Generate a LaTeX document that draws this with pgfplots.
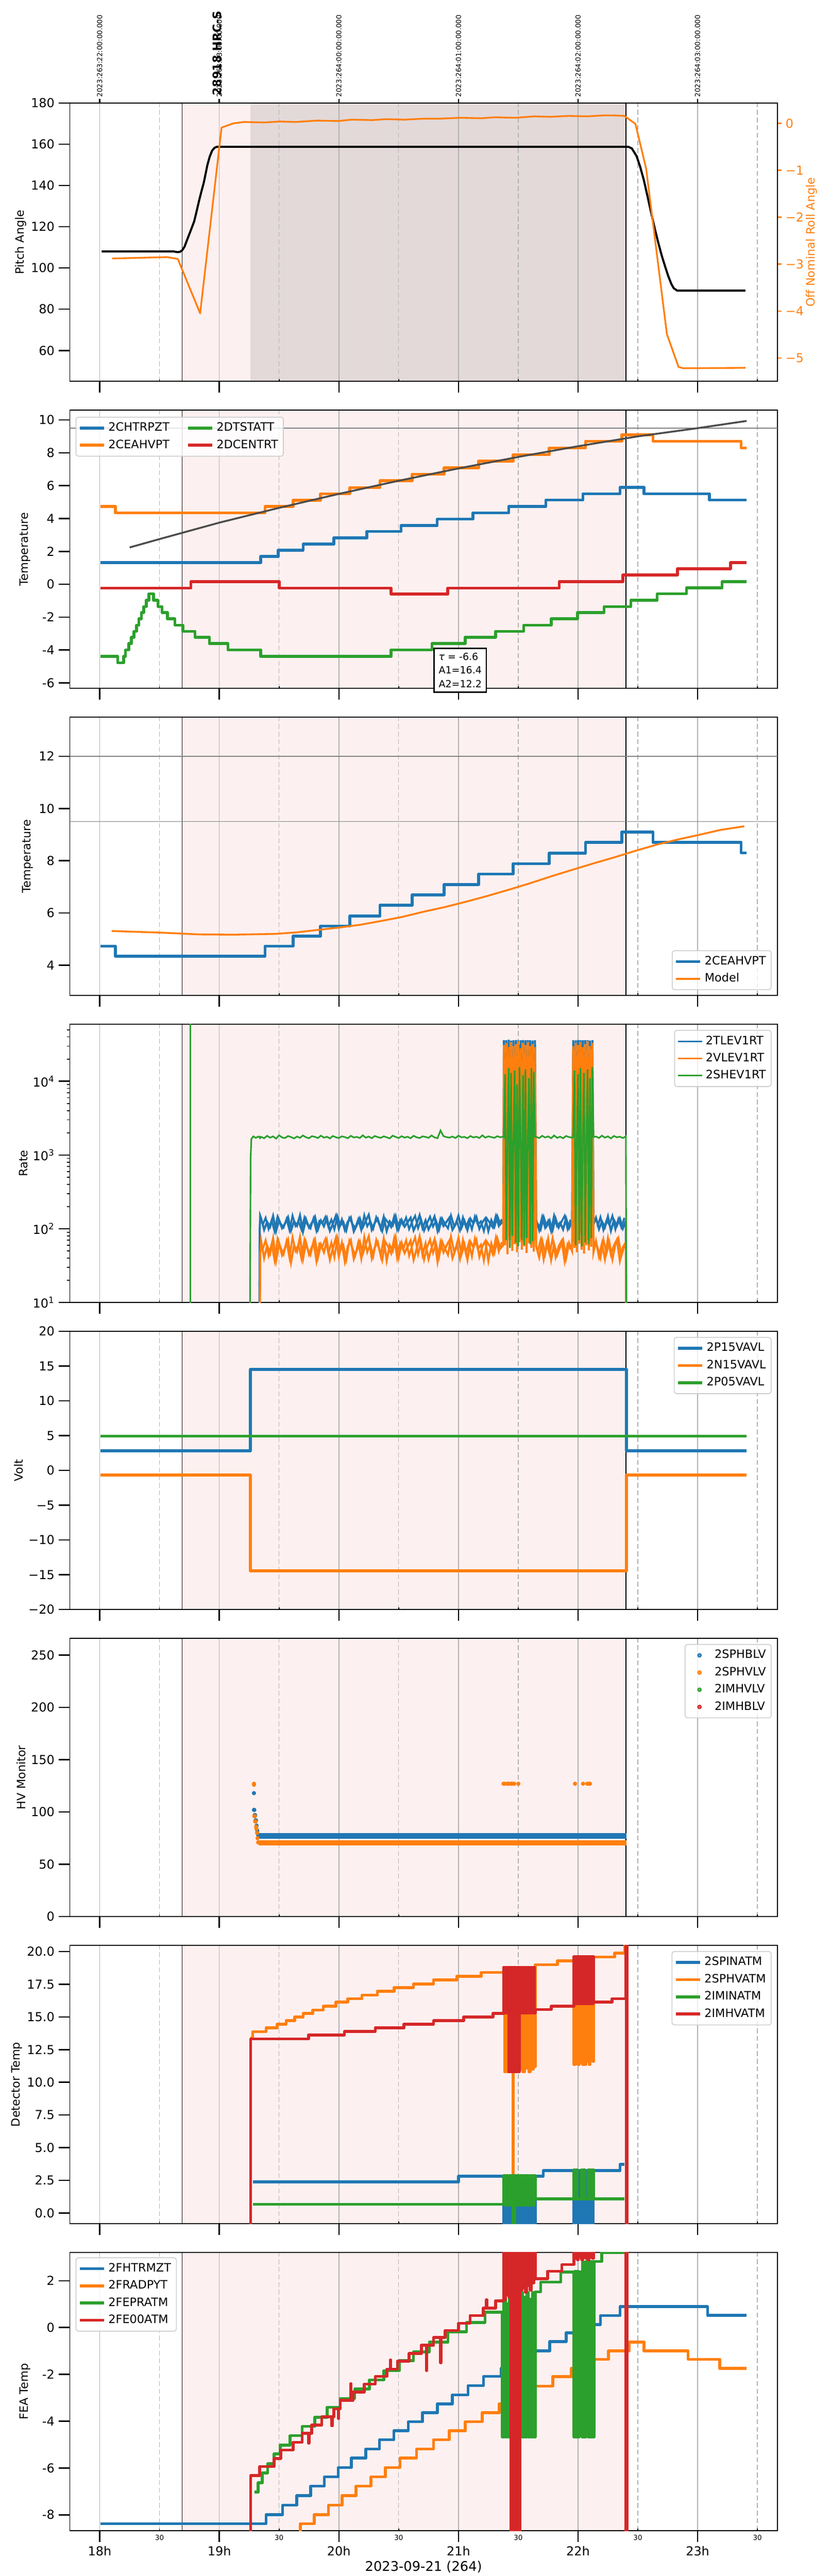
\documentclass[border=0pt]{standalone}
\usepackage{fontspec}
\setmainfont{DejaVu Sans}
\usepackage{pgfplots}
\pgfplotsset{compat=1.18}
\usepackage{pgfplotstable}

\definecolor{mblue}{RGB}{31,119,180}
\definecolor{morange}{RGB}{255,127,14}
\definecolor{mgreen}{RGB}{44,160,44}
\definecolor{mred}{RGB}{214,39,40}
\definecolor{pinkbg}{RGB}{253,240,240}
\definecolor{darkbg}{RGB}{227,217,217}
\definecolor{gridgray}{RGB}{176,176,176}
\definecolor{hgray}{RGB}{128,128,128}

\pgfplotstableread{
x b o g
19.255 nan nan 1
19.262 nan nan 900
19.268 nan nan 1650
19.285 nan nan 1790
19.305 nan nan 1710
19.325 nan nan 1780
19.334 1 nan 1740
19.338 95 1 1760
19.342 150 45 1700
19.350 138 68 1760
19.375 97 40 1690
19.400 124 59 1820
19.425 106 46 1720
19.450 149 74 1790
19.475 93 37 1670
19.500 131 63 1850
19.525 102 44 1730
19.550 118 55 1700
19.575 144 71 1810
19.600 95 35 1750
19.625 127 60 1680
19.650 110 49 1780
19.675 152 77 1710
19.700 91 39 1840
19.725 135 65 1740
19.750 104 45 1690
19.775 121 57 1800
19.800 146 72 1760
19.825 98 41 1700
19.850 129 61 1830
19.875 108 48 1720
19.900 140 69 1770
19.925 94 38 1680
19.950 117 54 1810
19.975 150 75 1740
20.000 100 42 1700
20.025 133 64 1790
20.050 96 36 1750
20.075 125 58 1690
20.100 143 70 1820
20.125 92 39 1730
20.150 112 51 1760
20.175 139 67 1700
20.200 105 46 1850
20.225 128 62 1720
20.250 155 79 1780
20.275 97 40 1690
20.300 120 56 1810
20.325 137 66 1750
20.350 101 43 1710
20.375 145 73 1790
20.400 93 37 1740
20.425 126 60 1680
20.450 111 50 1830
20.475 148 76 1760
20.500 99 41 1700
20.525 132 64 1800
20.550 107 47 1720
20.575 123 57 1770
20.600 141 69 1690
20.625 95 38 1820
20.650 116 53 1740
20.675 153 78 1700
20.700 102 44 1790
20.725 130 63 1760
20.750 98 39 1710
20.775 119 55 1840
20.800 147 72 1730
20.825 94 36 1690
20.850 135 66 2150
20.875 109 48 1800
20.900 124 59 1750
20.925 142 70 1720
20.950 97 40 1780
20.975 114 52 1700
21.000 150 75 1830
21.025 103 45 1740
21.050 128 61 1760
21.075 96 38 1690
21.100 137 67 1810
21.125 118 56 1730
21.150 145 71 1770
21.175 100 42 1700
21.200 122 58 1850
21.225 139 68 1720
21.250 93 37 1790
21.275 131 63 1750
21.300 106 47 1710
21.325 148 74 1800
21.350 115 54 1740
21.375 127 60 1780
21.380 36000 31000 1750
21.390 120 60 12500
21.400 36000 33000 70
21.410 105 45 1760
21.420 36500 29000 15000
21.430 130 70 55
21.440 35500 34000 13000
21.450 95 50 80
21.460 36000 30000 1740
21.470 115 62 14000
21.480 36200 32000 65
21.490 100 48 9000
21.500 35800 35000 58
21.510 125 66 15500
21.520 36000 28000 1760
21.530 108 52 70
21.540 36300 33000 12000
21.550 98 58 60
21.560 35900 31000 14500
21.570 132 47 75
21.580 36100 34000 1750
21.590 102 64 11000
21.600 36000 30000 62
21.610 118 55 15000
21.620 35700 32000 68
21.630 110 49 13500
21.640 36000 29000 1770
21.650 131 58 1760
21.675 96 41 1700
21.700 144 69 1820
21.725 104 46 1730
21.750 127 73 1790
21.775 93 38 1690
21.800 150 62 1840
21.825 109 44 1710
21.850 121 57 1770
21.875 98 71 1690
21.900 139 40 1810
21.925 102 64 1750
21.950 126 50 1720
21.960 36000 30000 1750
21.970 112 55 14000
21.980 35800 33000 60
21.990 97 48 1760
22.000 36200 31000 12500
22.010 128 63 70
22.020 36000 34000 15000
22.030 104 52 58
22.040 35900 29000 1740
22.050 120 46 13000
22.060 36100 32000 65
22.070 99 60 1750
22.080 36000 35000 14500
22.090 133 51 62
22.100 35700 30000 11000
22.110 107 57 75
22.120 36000 33000 15500
22.130 115 49 1760
22.150 141 68 1780
22.175 99 42 1700
22.200 126 63 1830
22.225 105 39 1720
22.250 147 74 1790
22.275 94 45 1680
22.300 132 59 1810
22.325 110 71 1740
22.350 138 37 1770
22.375 101 56 1700
22.400 129 66 1790
22.405 1 1 1
}\ratetab

\pgfplotstableread{
x b o
19.3625 112 52
19.3875 141 70
19.4125 99 43
19.4375 130 62
19.4625 92 37
19.4875 147 74
19.5125 118 56
19.5375 104 45
19.5625 136 68
19.5875 95 40
19.6125 151 77
19.6375 109 50
19.6625 126 61
19.6875 97 39
19.7125 143 72
19.7375 114 54
19.7625 101 44
19.7875 138 67
19.8125 93 36
19.8375 128 63
19.8625 120 58
19.8875 145 73
19.9125 106 46
19.9375 133 65
19.9625 98 41
19.9875 149 76
20.0125 111 51
20.0375 124 60
20.0625 94 38
20.0875 140 69
20.1125 117 55
20.1375 103 44
20.1625 135 66
20.1875 96 39
20.2125 153 78
20.2375 108 48
20.2625 127 62
20.2875 100 42
20.3125 144 71
20.3375 115 53
20.3625 92 37
20.3875 137 67
20.4125 121 57
20.4375 105 46
20.4625 148 75
20.4875 97 40
20.5125 131 64
20.5375 113 52
20.5625 142 70
20.5875 99 43
20.6125 125 59
20.6375 150 77
20.6625 102 45
20.6875 134 66
20.7125 94 38
20.7375 119 56
20.7625 146 72
20.7875 107 47
20.8125 129 63
20.8375 96 41
20.8625 139 68
20.8875 116 54
20.9125 101 44
20.9375 152 79
20.9625 110 50
20.9875 123 60
21.0125 95 39
21.0375 143 71
21.0625 106 46
21.0875 132 65
21.1125 98 42
21.1375 147 74
21.1625 114 53
21.1875 126 61
21.2125 93 37
21.2375 138 67
21.2625 120 58
21.2875 104 45
21.3125 150 76
21.3375 109 49
21.3625 135 66
21.3700 nan nan
21.6625 118 49
21.6875 97 71
21.7125 146 38
21.7375 108 64
21.7625 131 45
21.7875 94 75
21.8125 139 41
21.8375 103 58
21.8625 125 69
21.8875 150 36
21.9125 99 62
21.9375 133 53
21.9450 nan nan
22.1625 106 57
22.1875 144 40
22.2125 96 72
22.2375 129 46
22.2625 113 66
22.2875 150 38
22.3125 98 61
22.3375 136 75
22.3625 104 43
22.3875 141 58
}\ratetabB

\pgfplotsset{
  base/.style={
    scale only axis, width=613.1pt, height=241.2pt,
    anchor=north west,
    xmin=17.75, xmax=23.667,
    set layers, clip mode=individual,
    axis line style={line width=0.8pt},
    tick align=outside,
    major tick length=9.7pt, minor tick length=2.5pt,
    tick style={black, line width=1.1pt},
    minor tick style={line width=0.8pt},
    xtick={18,...,23},
    xtick pos=left, ytick pos=left,
    xmajorgrids,
    major grid style={gridgray, line width=0.7pt},
    extra x ticks={18.5,19.5,...,23.5},
    extra x tick style={grid=major, major grid style={gridgray, line width=0.6pt, dash pattern=on 4.2pt off 2.4pt},
      tick align=inside, major tick length=2pt, tick style={line width=0.8pt}},
    tick label style={font=\fontsize{10.7}{12}\selectfont},
    label style={font=\fontsize{10}{12}\selectfont},
    /pgf/number format/assume math mode=true,
    legend cell align=left,
    legend style={font=\fontsize{10}{12}\selectfont, draw=black!20, line width=0.7pt,
      rounded corners=2pt, fill=white, fill opacity=0.8, text opacity=1,
      inner xsep=2pt, inner ysep=2pt, row sep=0pt,
      nodes={inner sep=2.6pt, text height=7.5pt, text depth=2.2pt}},
  },
  nolab/.style={xticklabels={,,,,,}, extra x tick labels={,,,,,}},
  ylab/.style={ylabel style={at={(axis description cs:#1,0.5)}, anchor=center}},
  linelegend/.style={legend image code/.code={\draw[##1] (0pt,0pt) -- (21pt,0pt);}},
  pinkfill/.style={fill=pinkbg, draw=none, forget plot, on layer=axis background},
  vline/.style={black, line width=0.6pt, forget plot},
  stepl/.style={const plot, line width=2.5pt, line join=round},
  legUR/.style={legend style={at={(1,1)}, anchor=north east, xshift=-5pt, yshift=-5pt}},
}

\begin{document}
\begin{tikzpicture}

% ================= Panel 1 =================
\begin{axis}[base, nolab, at={(0pt,0pt)}, ymin=45, ymax=180, ytick={60,80,...,180},
  ylabel={Pitch Angle}, ylab=-0.0693]
\addplot[pinkfill] coordinates {(18.69,45) (22.40,45) (22.40,180) (18.69,180)} -- cycle;
\addplot[fill=darkbg, draw=none, forget plot, on layer=axis background] coordinates {(19.26,45) (22.40,45) (22.40,180) (19.26,180)} -- cycle;
\addplot[vline] coordinates {(18.69,45) (18.69,180)};
\addplot[vline] coordinates {(22.40,45) (22.40,180)};
\addplot[black, line width=1.8pt, line join=round] coordinates {
(18.017,108) (18.62,108) (18.65,107.7) (18.67,107.8) (18.69,108.6) (18.71,110.4) (18.73,113.5)
(18.76,118) (18.79,122.6) (18.81,127.4) (18.83,132.4) (18.85,137) (18.87,141.3) (18.885,145.5)
(18.90,149.8) (18.92,154) (18.94,156.9) (18.96,158.3) (18.98,158.8) (22.42,158.8) (22.45,158)
(22.49,154.2) (22.52,149) (22.55,142.7) (22.58,135) (22.61,127.2) (22.64,119.5) (22.67,112.5)
(22.70,106) (22.73,100.4) (22.755,96) (22.78,92.3) (22.80,90.2) (22.83,89) (23.40,89)};
\end{axis}

\begin{axis}[scale only axis, width=613.1pt, height=241.2pt, anchor=north west, at={(0pt,0pt)},
  xmin=17.75, xmax=23.667, ymin=-5.5, ymax=0.434,
  axis y line*=right, axis x line=none,
  axis line style={line width=0.8pt},
  tick align=outside, major tick length=3.6pt,
  tick style={morange, line width=1.1pt},
  ytick={-5,...,0}, yticklabels={−5,−4,−3,−2,−1,0},
  yticklabel style={morange, font=\fontsize{10.7}{12}\selectfont},
  ylabel={Off Nominal Roll Angle},
  ylabel style={morange, font=\fontsize{10}{12}\selectfont, at={(axis description cs:1.0481,0.5)}, anchor=center}]
\addplot[morange, line width=1.5pt, line join=round] coordinates {
(18.104,-2.88) (18.563,-2.85) (18.653,-2.89) (18.84,-4.05) (19.019,-0.09) (19.116,0.0) (19.205,0.03)
(19.379,0.02) (19.506,0.04) (19.639,0.03) (19.817,0.06) (19.994,0.05) (20.105,0.08) (20.282,0.07)
(20.393,0.09) (20.548,0.08) (20.704,0.10) (20.837,0.10) (21.014,0.12) (21.191,0.11) (21.302,0.13)
(21.479,0.12) (21.634,0.15) (21.767,0.14) (21.922,0.16) (22.077,0.15) (22.210,0.17) (22.299,0.17)
(22.387,0.16) (22.48,-0.01) (22.57,-0.97) (22.743,-4.49) (22.84,-5.19) (22.88,-5.22) (23.40,-5.21)};
\end{axis}

\begin{axis}[scale only axis, width=613.1pt, height=241.2pt, anchor=north west, at={(0pt,0pt)},
  xmin=17.75, xmax=23.667, ymin=45, ymax=180,
  axis x line*=top, axis y line=none,
  axis line style={line width=0.8pt},
  tick align=outside, major tick length=3.6pt,
  tick style={black, line width=1.1pt},
  xtick={18,...,23},
  xticklabels={2023:263:22:00:00.000,2023:263:23:00:00.000,2023:264:00:00:00.000,2023:264:01:00:00.000,2023:264:02:00:00.000,2023:264:03:00:00.000},
  xticklabel style={rotate=90, anchor=west, font=\fontsize{6}{7}\selectfont, inner sep=1.5pt},
  clip=false]
\addplot[draw=none, forget plot] coordinates {(18,100) (19,100)};
\node[rotate=90, anchor=west, inner sep=0pt, font=\bfseries\fontsize{10}{12}\selectfont] at (axis cs:18.983,183.6) {28918 HRC-S};
\end{axis}

% ================= Panel 2 =================
\begin{axis}[base, nolab, linelegend, at={(0pt,-266.04pt)}, ymin=-6.34, ymax=10.6, ytick={-6,-4,...,10},
  ylabel={Temperature}, ylab=-0.0634,
  legend columns=2, transpose legend,
  legend style={at={(0,1)}, anchor=north west, xshift=5pt, yshift=-5.8pt,
    /tikz/every even column/.append style={column sep=12pt}}]
\addplot[pinkfill] coordinates {(18.69,-6.34) (22.40,-6.34) (22.40,10.6) (18.69,10.6)} -- cycle;
\addplot[vline] coordinates {(18.69,-6.34) (18.69,10.6)};
\addplot[vline] coordinates {(22.40,-6.34) (22.40,10.6)};
\addplot[hgray, line width=0.6pt, forget plot] coordinates {(17.75,9.5) (23.667,9.5)};
\addplot[mblue, stepl] coordinates {
(18.008,1.31) (19.347,1.69) (19.493,2.08) (19.701,2.44) (19.958,2.82) (20.233,3.21) (20.521,3.58)
(20.822,3.97) (21.120,4.35) (21.421,4.74) (21.731,5.13) (22.041,5.51) (22.352,5.90) (22.551,5.51)
(23.098,5.13) (23.408,5.13)};
\addlegendentry{2CHTRPZT}
\addplot[morange, stepl] coordinates {
(18.008,4.73) (18.132,4.35) (19.382,4.73) (19.617,5.11) (19.847,5.50) (20.091,5.88) (20.344,6.30)
(20.614,6.69) (20.880,7.09) (21.168,7.49) (21.456,7.89) (21.758,8.29) (22.063,8.70) (22.365,9.10)
(22.627,8.70) (23.364,8.30) (23.408,8.30)};
\addlegendentry{2CEAHVPT}
\addplot[mgreen, stepl] coordinates {
(18.008,-4.39) (18.150,-4.78) (18.199,-4.39) (18.216,-3.99) (18.243,-3.61) (18.265,-3.22)
(18.287,-2.86) (18.309,-2.49) (18.327,-2.10) (18.349,-1.72) (18.367,-1.36) (18.390,-0.97)
(18.412,-0.58) (18.451,-0.97) (18.487,-1.36) (18.522,-1.72) (18.567,-2.10) (18.629,-2.49)
(18.695,-2.86) (18.797,-3.22) (18.917,-3.61) (19.072,-3.99) (19.347,-4.39) (20.437,-3.99)
(20.778,-3.61) (21.057,-3.22) (21.310,-2.86) (21.545,-2.49) (21.776,-2.10) (21.997,-1.72)
(22.218,-1.36) (22.441,-0.97) (22.662,-0.58) (22.907,-0.22) (23.204,0.15) (23.408,0.15)};
\addlegendentry{2DTSTATT}
\addplot[mred, stepl] coordinates {
(18.008,-0.23) (18.762,0.16) (19.502,-0.23) (20.437,-0.60) (20.911,-0.23) (21.842,0.16)
(22.374,0.56) (22.831,0.95) (23.275,1.31) (23.408,1.31)};
\addlegendentry{2DCENTRT}
\addplot[black!70, line width=1.6pt, forget plot] coordinates {
(18.25,2.24) (18.5,2.75) (19.0,3.75) (19.5,4.65) (20.0,5.5) (20.5,6.3) (21.0,7.05) (21.5,7.75)
(22.0,8.4) (22.5,9.0) (23.0,9.5) (23.41,9.94)};
\node[draw=black, line width=1.3pt, fill=white, anchor=north west, align=left, inner sep=4pt,
  font=\fontsize{8.5}{11.7}\selectfont] at (axis cs:20.79,-3.86) {\textit{τ} = -6.6\\A1=16.4\\A2=12.2};
\end{axis}

% ================= Panel 3 =================
\begin{axis}[base, nolab, linelegend, at={(0pt,-532.08pt)}, ymin=2.84, ymax=13.5, ytick={4,6,...,12},
  ylabel={Temperature}, ylab=-0.0599,
  legend style={at={(1,0)}, anchor=south east, xshift=-5pt, yshift=4.7pt}]
\addplot[pinkfill] coordinates {(18.69,2.84) (22.40,2.84) (22.40,13.5) (18.69,13.5)} -- cycle;
\addplot[vline] coordinates {(18.69,2.84) (18.69,13.5)};
\addplot[vline] coordinates {(22.40,2.84) (22.40,13.5)};
\addplot[hgray, line width=0.6pt, forget plot] coordinates {(17.75,12) (23.667,12)};
\addplot[hgray, line width=0.6pt, forget plot] coordinates {(17.75,9.5) (23.667,9.5)};
\addplot[mblue, stepl] coordinates {
(18.008,4.73) (18.132,4.35) (19.382,4.73) (19.617,5.11) (19.847,5.50) (20.091,5.88) (20.344,6.30)
(20.614,6.69) (20.880,7.09) (21.168,7.49) (21.456,7.89) (21.758,8.29) (22.063,8.70) (22.365,9.10)
(22.627,8.70) (23.364,8.30) (23.408,8.30)};
\addlegendentry{2CEAHVPT}
\addplot[morange, line width=1.6pt, line join=round] coordinates {
(18.10,5.31) (18.50,5.25) (18.83,5.18) (19.12,5.17) (19.47,5.20) (19.65,5.26) (19.82,5.35)
(20.00,5.44) (20.18,5.55) (20.36,5.70) (20.53,5.85) (20.71,6.05) (20.89,6.23) (21.07,6.44)
(21.24,6.65) (21.42,6.89) (21.60,7.14) (21.78,7.41) (21.95,7.65) (22.13,7.90) (22.31,8.14)
(22.48,8.38) (22.66,8.62) (22.84,8.82) (23.02,9.00) (23.19,9.18) (23.39,9.32)};
\addlegendentry{Model}
\end{axis}

% ================= Panel 4 =================
\begin{axis}[base, nolab, linelegend, legUR, at={(0pt,-798.12pt)}, ymode=log, ymin=10, ymax=59400,
  ytick={10,100,1000,10000},
  yticklabels={10\textsuperscript{1},10\textsuperscript{2},10\textsuperscript{3},10\textsuperscript{4}},
  minor ytick={20,30,40,50,60,70,80,90,200,300,400,500,600,700,800,900,2000,3000,4000,5000,6000,7000,8000,9000,20000,30000,40000,50000},
  ylabel={Rate}, ylab=-0.0652]
\addplot[pinkfill] coordinates {(18.69,1) (22.40,1) (22.40,1e6) (18.69,1e6)} -- cycle;
\addplot[vline] coordinates {(18.69,1) (18.69,1e6)};
\addplot[vline] coordinates {(22.40,1) (22.40,1e6)};
\addplot[mgreen, line width=1.3pt, forget plot] coordinates {(18.757,1) (18.757,1e6)};
\addplot[mblue, line width=1.6pt, forget plot, unbounded coords=jump] table[x=x, y=b] {\ratetabB};
\addplot[mblue, line width=1.8pt, forget plot] table[x=x, y=b] {\ratetab};
\addplot[morange, line width=1.6pt, forget plot, unbounded coords=jump] table[x=x, y=o] {\ratetabB};
\addplot[morange, line width=1.8pt, forget plot] table[x=x, y=o] {\ratetab};
\addplot[mgreen, line width=1.4pt, forget plot] table[x=x, y=g] {\ratetab};
\addlegendimage{mblue, line width=1.4pt}
\addlegendentry{2TLEV1RT}
\addlegendimage{morange, line width=1.4pt}
\addlegendentry{2VLEV1RT}
\addlegendimage{mgreen, line width=1.4pt}
\addlegendentry{2SHEV1RT}
\end{axis}

% ================= Panel 5 =================
\begin{axis}[base, nolab, linelegend, legUR, at={(0pt,-1064.16pt)}, ymin=-20, ymax=20,
  ytick={-20,-15,...,20}, yticklabels={−20,−15,−10,−5,0,5,10,15,20},
  ylabel={Volt}, ylab=-0.0722]
\addplot[pinkfill] coordinates {(18.69,-20) (22.40,-20) (22.40,20) (18.69,20)} -- cycle;
\addplot[vline] coordinates {(18.69,-20) (18.69,20)};
\addplot[vline] coordinates {(22.40,-20) (22.40,20)};
\addplot[mblue, stepl] coordinates {(18.008,2.83) (19.26,14.5) (22.405,2.83) (23.408,2.83)};
\addlegendentry{2P15VAVL}
\addplot[morange, stepl] coordinates {(18.008,-0.66) (19.26,-14.43) (22.405,-0.66) (23.408,-0.66)};
\addlegendentry{2N15VAVL}
\addplot[mgreen, stepl] coordinates {(18.008,4.94) (23.408,4.94)};
\addlegendentry{2P05VAVL}
\end{axis}

% ================= Panel 6 =================
\begin{axis}[base, nolab, legUR, at={(0pt,-1330.2pt)}, ymin=0, ymax=266,
  ytick={0,50,...,250}, ylabel={HV Monitor}, ylab=-0.0687,
  legend image code/.code={\path[draw=none, fill=none] (0pt,0pt) -- (21pt,0pt); \draw[#1, only marks] plot coordinates {(10.5pt,0pt)};}]
\addplot[pinkfill] coordinates {(18.69,0) (22.40,0) (22.40,266) (18.69,266)} -- cycle;
\addplot[vline] coordinates {(18.69,0) (18.69,266)};
\addplot[vline] coordinates {(22.40,0) (22.40,266)};
\addplot[only marks, mark=*, mark size=1.6pt, mblue, mark options={fill=mblue, draw=mblue}] coordinates {
(19.290,118) (19.290,102) (19.293,102) (19.296,97) (19.300,97) (19.303,92) (19.307,92) (19.312,87)
(19.318,82) (19.325,78)};
\addlegendentry{2SPHBLV}
\addplot[mblue, line width=5pt, forget plot] coordinates {(19.335,77.2) (22.405,77.2)};
\addplot[only marks, mark=*, mark size=1.6pt, morange, mark options={fill=morange, draw=morange}] coordinates {
(19.290,127) (19.290,126) (19.293,96) (19.297,96) (19.300,91) (19.304,91) (19.308,86) (19.311,84)
(19.316,80) (19.320,75) (19.325,71)
(21.377,127) (21.385,127) (21.408,127) (21.415,127) (21.430,127) (21.443,127) (21.450,127)
(21.466,127) (21.501,127) (21.975,127) (22.042,127) (22.077,127) (22.090,127) (22.100,127)};
\addlegendentry{2SPHVLV}
\addplot[morange, line width=4.3pt, forget plot] coordinates {(19.330,70.5) (22.405,70.5)};
\addlegendimage{only marks, mark=*, mark size=1.6pt, mgreen, mark options={fill=mgreen, draw=mgreen}}
\addlegendentry{2IMHVLV}
\addlegendimage{only marks, mark=*, mark size=1.6pt, mred, mark options={fill=mred, draw=mred}}
\addlegendentry{2IMHBLV}
\end{axis}

% ================= Panel 7 =================
\begin{axis}[base, nolab, linelegend, legUR, at={(0pt,-1596.24pt)}, ymin=-0.82, ymax=20.48,
  ytick={0,2.5,...,20},
  yticklabel style={/pgf/number format/.cd, fixed, fixed zerofill, precision=1},
  ylabel={Detector Temp}, ylab=-0.0746]
\addplot[pinkfill] coordinates {(18.69,-0.82) (22.40,-0.82) (22.40,20.48) (18.69,20.48)} -- cycle;
\addplot[vline] coordinates {(18.69,-0.82) (18.69,20.48)};
\addplot[vline] coordinates {(22.40,-0.82) (22.40,20.48)};
\addplot[mblue, stepl] coordinates {
(19.280,2.37) (21.000,2.81)
(21.377,-3) (21.389,2.81) (21.401,-3) (21.413,2.81) (21.425,-3) (21.437,2.81) (21.449,-3) (21.461,2.81)
(21.473,-3) (21.485,2.81) (21.497,-3) (21.509,2.81) (21.521,-3) (21.533,2.81) (21.545,-3) (21.557,2.81)
(21.569,-3) (21.581,2.81) (21.593,-3) (21.605,2.81) (21.617,-3) (21.629,2.81) (21.636,-3)
(21.643,2.81) (21.709,3.24)
(21.966,-3) (21.975,3.24) (21.984,-3) (21.993,3.24) (22.002,-3) (22.011,3.24) (22.030,-3) (22.039,3.24)
(22.048,-3) (22.057,3.24) (22.066,-3) (22.075,3.24) (22.084,-3) (22.093,3.24) (22.102,-3) (22.111,3.24)
(22.120,-3) (22.127,3.24)
(22.130,3.24) (22.352,3.71) (22.388,3.71)};
\addlegendentry{2SPINATM}
\addplot[morange, stepl] coordinates {
(19.262,13.40) (19.280,13.87) (19.391,14.17) (19.484,14.44) (19.559,14.71) (19.630,15.00) (19.701,15.27)
(19.781,15.53) (19.870,15.83) (19.976,16.13) (20.074,16.40) (20.193,16.67) (20.322,16.97) (20.463,17.25)
(20.623,17.52) (20.792,17.84) (20.987,18.12) (21.190,18.41)
(21.377,18.41) (21.386,10.8) (21.398,18.6) (21.410,10.8) (21.422,18.41) (21.434,10.9) (21.446,18.6)
(21.455,-2) (21.458,18.41) (21.468,10.8) (21.480,18.6) (21.492,10.8) (21.504,18.41) (21.516,11.0)
(21.528,18.6) (21.540,10.8) (21.552,18.41) (21.564,11.1) (21.576,18.6) (21.588,10.8) (21.600,18.41)
(21.612,11.0) (21.624,18.6) (21.634,11.2)
(21.643,19.0) (21.829,19.29)
(21.966,11.37) (21.975,19.29) (21.984,11.4) (21.993,19.29) (22.002,11.37) (22.011,19.29) (22.020,11.5)
(22.029,19.29) (22.038,11.37) (22.047,19.29) (22.056,11.37) (22.065,19.29) (22.074,11.6) (22.083,19.29)
(22.092,11.37) (22.101,19.29) (22.110,11.8) (22.119,19.29) (22.126,11.6)
(22.130,19.58) (22.307,19.88) (22.388,19.88) (22.392,21) (22.395,21)};
\addlegendentry{2SPHVATM}
\addplot[mgreen, stepl] coordinates {
(19.280,0.66)
(21.377,2.85) (21.389,0.6) (21.401,2.85) (21.413,0.6) (21.425,2.85) (21.437,0.6) (21.449,2.85)
(21.455,-2) (21.470,2.85) (21.482,0.6) (21.494,2.85) (21.506,0.6) (21.518,2.85) (21.530,0.6)
(21.542,2.85) (21.554,0.6) (21.566,2.85) (21.578,0.6) (21.590,2.85) (21.602,0.6) (21.614,2.85)
(21.626,0.6) (21.636,2.85)
(21.643,1.08)
(21.966,3.3) (21.975,1.08) (21.984,3.3) (21.993,1.08) (22.030,3.3) (22.040,1.08) (22.048,3.3)
(22.058,1.08) (22.085,3.3) (22.095,1.08) (22.104,3.3) (22.113,1.08) (22.121,3.3)
(22.130,1.08) (22.388,1.08)};
\addlegendentry{2IMINATM}
\addplot[mred, stepl] coordinates {
(19.262,-5) (19.263,13.32) (19.746,13.62) (20.047,13.89) (20.304,14.17) (20.544,14.44) (20.792,14.71)
(21.044,15.00) (21.288,15.27)
(21.377,18.8) (21.386,15.3) (21.395,18.8) (21.404,15.3) (21.413,18.8) (21.420,10.8) (21.428,18.8)
(21.436,10.8) (21.444,18.8) (21.452,10.8) (21.460,18.8) (21.470,10.8) (21.478,18.8) (21.486,10.8)
(21.494,18.8) (21.502,10.8) (21.510,18.8) (21.518,15.3) (21.530,18.8) (21.542,15.3) (21.554,18.8)
(21.566,15.3) (21.578,18.8) (21.590,15.3) (21.602,18.8) (21.614,15.3) (21.626,18.8) (21.636,15.3)
(21.643,15.56) (21.776,15.83)
(21.966,19.6) (21.975,16.0) (21.984,19.6) (21.993,16.0) (22.002,19.6) (22.011,16.0) (22.020,19.6)
(22.029,16.0) (22.038,19.6) (22.047,16.0) (22.056,19.6) (22.065,16.0) (22.074,19.6) (22.083,16.0)
(22.092,19.6) (22.101,16.0) (22.110,19.6) (22.119,16.0) (22.126,19.6)
(22.130,16.13) (22.285,16.40) (22.398,16.40) (22.400,25) (22.403,-5) (22.406,25) (22.409,-5) (22.411,-5)};
\addlegendentry{2IMHVATM}
\end{axis}

% ================= Panel 8 =================
\begin{axis}[base, linelegend, at={(0pt,-1862.28pt)}, ymin=-8.68, ymax=3.21,
  ytick={-8,-6,...,2}, ylabel={FEA Temp}, ylab=-0.0634,
  xticklabels={18h,19h,20h,21h,22h,23h},
  extra x tick labels={30,30,30,30,30,30},
  extra x tick style={xticklabel style={font=\fontsize{6}{7}\selectfont}},
  xlabel={2023-09-21 (264)},
  xlabel style={font=\fontsize{11.5}{13}\selectfont, at={(axis description cs:0.5,0)}, anchor=center, yshift=-31.3pt},
  legend style={at={(0,1)}, anchor=north west, xshift=5pt, yshift=-4.3pt}]
\addplot[pinkfill] coordinates {(18.69,-8.68) (22.40,-8.68) (22.40,3.21) (18.69,3.21)} -- cycle;
\addplot[vline] coordinates {(18.69,-8.68) (18.69,3.21)};
\addplot[vline] coordinates {(22.40,-8.68) (22.40,3.21)};
\addplot[mblue, stepl] coordinates {
(18.008,-8.38) (19.391,-7.99) (19.529,-7.59) (19.648,-7.18) (19.764,-6.77) (19.879,-6.38) (19.994,-5.98)
(20.105,-5.58) (20.225,-5.19) (20.340,-4.79) (20.460,-4.41) (20.580,-4.02) (20.700,-3.64) (20.824,-3.26)
(20.948,-2.88) (21.081,-2.48) (21.210,-2.09) (21.356,-1.75) (21.50,-1.40) (21.643,-1.00) (21.763,-0.60)
(21.900,-0.23) (22.042,0.13) (22.188,0.51) (22.352,0.89) (23.083,0.52) (23.408,0.52)};
\addlegendentry{2FHTRMZT}
\addplot[morange, stepl] coordinates {
(19.676,-9.5) (19.678,-8.38) (19.793,-7.99) (19.913,-7.59) (20.028,-7.18) (20.144,-6.77) (20.268,-6.38)
(20.388,-5.98) (20.512,-5.58) (20.649,-5.19) (20.791,-4.79) (20.924,-4.41) (21.057,-4.02) (21.199,-3.64)
(21.341,-3.26) (21.48,-2.88) (21.643,-2.50) (21.789,-2.10) (21.944,-1.75) (22.122,-1.36) (22.255,-1.00)
(22.428,-0.62) (22.552,-1.00) (22.920,-1.36) (23.186,-1.75) (23.408,-1.75)};
\addlegendentry{2FRADPYT}
\addplot[mgreen, stepl] coordinates {
(19.293,-7.03) (19.324,-6.63) (19.360,-6.21) (19.404,-5.82) (19.458,-5.40) (19.511,-5.02) (19.591,-4.62)
(19.693,-4.22) (19.799,-3.83) (19.901,-3.41) (20.012,-3.03) (20.132,-2.63) (20.256,-2.24) (20.376,-1.84)
(20.504,-1.42) (20.624,-1.04) (20.757,-0.62) (20.912,-0.18) (21.067,0.22) (21.222,0.65)
(21.368,-4.67) (21.380,1.3) (21.392,-4.67) (21.404,1.0) (21.416,-4.67) (21.428,1.5) (21.440,-4.67)
(21.452,1.2) (21.464,-4.67) (21.476,1.4) (21.488,-4.67) (21.500,1.1) (21.512,-4.67) (21.524,1.5)
(21.536,-4.67) (21.548,1.3) (21.560,-4.67) (21.572,1.5) (21.584,-4.67) (21.596,1.2) (21.608,-4.67)
(21.620,1.5) (21.632,-4.67)
(21.643,1.52) (21.687,1.94) (21.856,2.37)
(21.966,-4.67) (21.972,2.4) (21.978,-4.67) (21.984,2.4) (21.990,-4.67) (21.996,2.4) (22.002,-4.67)
(22.008,2.37) (22.033,-4.67) (22.040,2.8) (22.047,-4.67) (22.054,2.8) (22.060,-4.67) (22.066,2.82)
(22.086,-4.67) (22.093,2.82) (22.100,-4.67) (22.107,2.82) (22.114,-4.67) (22.121,2.82) (22.128,-4.67)
(22.134,2.82) (22.197,3.21) (22.388,3.21)};
\addlegendentry{2FEPRATM}
\addplot[mred, stepl] coordinates {
(19.262,-9.5) (19.263,-6.32) (19.338,-5.94) (19.458,-5.59) (19.515,-5.23) (19.617,-4.90) (19.693,-4.52)
(19.747,-4.94) (19.751,-4.52) (19.773,-4.17) (19.857,-3.81) (19.940,-4.2) (19.944,-3.81) (19.959,-3.47)
(19.995,-3.89) (19.999,-3.47) (20.012,-3.11) (20.098,-2.40) (20.102,-3.11) (20.118,-2.76) (20.211,-2.42)
(20.304,-2.09) (20.402,-1.78) (20.430,-1.38) (20.434,-1.78) (20.490,-1.44) (20.588,-1.11) (20.690,-0.76)
(20.731,-1.84) (20.735,-0.76) (20.792,-0.43) (20.851,-1.50) (20.855,-0.43) (20.889,-0.13) (21.000,0.18)
(21.097,0.51) (21.208,0.83) (21.233,1.18) (21.237,0.83) (21.310,1.14)
(21.377,3.6) (21.386,1.2) (21.395,3.6) (21.404,1.4) (21.413,3.6) (21.422,1.3) (21.431,3.6) (21.437,-9.5)
(21.443,3.6) (21.449,-9.5) (21.455,3.6) (21.461,-9.5) (21.467,3.6) (21.473,-9.5) (21.479,3.6) (21.485,-9.5)
(21.491,3.6) (21.497,-9.5) (21.503,3.6) (21.509,-9.5) (21.515,3.6) (21.521,1.6) (21.530,3.6) (21.540,1.7)
(21.550,3.6) (21.560,1.5) (21.570,3.6) (21.580,1.8) (21.590,3.6) (21.600,1.6) (21.610,3.6) (21.620,1.9)
(21.630,3.6)
(21.643,2.09) (21.745,2.40) (21.865,2.69)
(21.966,3.6) (21.975,2.95) (21.984,3.6) (21.993,2.9) (22.002,3.6) (22.011,3.0) (22.020,3.6) (22.029,2.9)
(22.038,3.6) (22.047,3.0) (22.056,3.6) (22.065,2.95) (22.074,3.6) (22.083,2.9) (22.092,3.6) (22.101,3.0)
(22.110,3.6) (22.119,2.95)
(22.130,3.6) (22.398,3.6) (22.400,-9.5) (22.403,3.6) (22.406,-9.5) (22.409,3.6) (22.411,3.6)};
\addlegendentry{2FE00ATM}
\end{axis}

\pgfresetboundingbox
\path[use as bounding box] (-60.48pt,89.28pt) rectangle (659.52pt,-2142.72pt);
\end{tikzpicture}
\end{document}
